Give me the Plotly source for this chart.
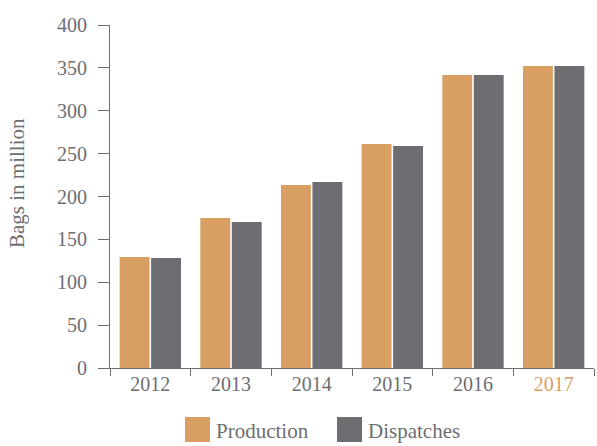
import plotly.graph_objects as go

years = ["2012", "2013", "2014", "2015", "2016", "2017"]
production = [129.4, 174.9, 213.4, 261.2, 341.7, 352.2]
dispatches = [128.3, 170.3, 216.9, 258.9, 341.7, 352.2]
y_ticks = [0, 50, 100, 150, 200, 250, 300, 350, 400]

ORANGE = "#D99E62"
GREY = "#6D6E71"
TEXT = "#6D6E71"
FONT = "Liberation Serif"

W, H = 597, 446
ML, MR, MT, MB = 110, 3, 25, 78

fig = go.Figure()
fig.add_bar(x=years, y=production, name="Production", marker_color=ORANGE,
            marker_line_width=0, showlegend=False)
fig.add_bar(x=years, y=dispatches, name="Dispatches", marker_color=GREY,
            marker_line_width=0, showlegend=False)

# highlight the latest year label
ticktext = [y if y != "2017" else f'<span style="color:{ORANGE}">{y}</span>' for y in years]

fig.update_layout(
    width=W, height=H,
    margin=dict(l=ML, r=MR, t=MT, b=MB, pad=0),
    paper_bgcolor="white", plot_bgcolor="white",
    barmode="group", bargap=0.22, bargroupgap=0.05,
    font=dict(family=FONT, size=20, color=TEXT),
    xaxis=dict(
        tickvals=years, ticktext=ticktext,
        showline=True, linecolor=GREY, linewidth=1,
        ticks="outside", tickson="boundaries", ticklen=7, tickcolor=GREY,
        showgrid=False, zeroline=False,
        ticklabelstandoff=-2,
    ),
    yaxis=dict(
        range=[0, 400], tickvals=y_ticks,
        showline=True, linecolor=GREY, linewidth=1,
        ticks="outside", ticklen=11, tickcolor=GREY,
        showgrid=False, zeroline=False,
        ticklabelstandoff=7,
    ),
)

# helpers to place paper-referenced items by pixel position
pw = W - ML - MR
ph = H - MT - MB
def px_x(v):
    return (v - ML) / pw
def px_y(v):
    return (H - MB - v) / ph

# rotated y-axis title
fig.add_annotation(xref="paper", yref="paper", x=px_x(17), y=px_y(183),
                   xanchor="center", yanchor="middle", showarrow=False,
                   textangle=-90, text="Bags in million",
                   font=dict(family=FONT, size=21, color=TEXT))

# custom legend below the chart
legend_items = [("Production", ORANGE, 185), ("Dispatches", GREY, 337)]
for label, color, x0 in legend_items:
    fig.add_shape(type="rect", xref="paper", yref="paper",
                  x0=px_x(x0), x1=px_x(x0 + 25), y0=px_y(442), y1=px_y(417),
                  fillcolor=color, line_width=0)
    fig.add_annotation(xref="paper", yref="paper", x=px_x(x0 + 29), y=px_y(431),
                       xanchor="left", yanchor="middle", showarrow=False,
                       text=label, font=dict(family=FONT, size=21, color=TEXT))

fig.write_html("out.html")
